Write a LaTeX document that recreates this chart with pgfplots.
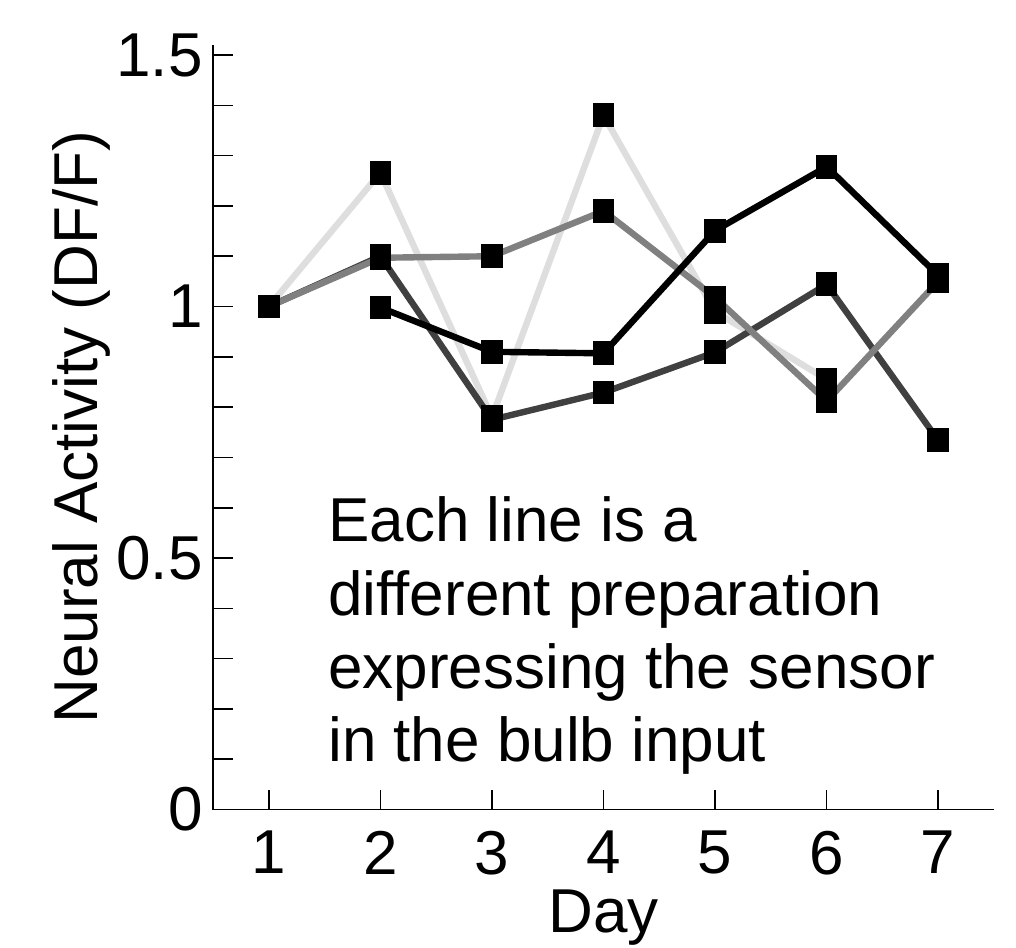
\documentclass[border=0pt]{standalone}
\usepackage{pgfplots}
\pgfplotsset{compat=1.18}
\usepackage{fontspec}
\setmainfont{Liberation Sans}

\definecolor{lightline}{HTML}{DEDEDE}
\definecolor{midline}{HTML}{808080}
\definecolor{darkline}{HTML}{404040}

\begin{document}
\begin{tikzpicture}
\begin{axis}[
    name=ax,
    scale only axis,
    width=390.5pt, height=382.25pt,
    xmin=0.5, xmax=7.5, ymin=0, ymax=1.52,
    axis x line*=bottom, axis y line*=left,
    axis line style={line width=0.9pt},
    xtick={1,...,7},
    ytick={0,0.5,1,1.5},
    minor ytick={0.1,0.2,0.3,0.4,0.6,0.7,0.8,0.9,1.1,1.2,1.3,1.4},
    tick align=inside,
    major tick length=10pt, minor tick length=10pt,
    tick style={black, line width=0.8pt},
    /pgf/number format/assume math mode=true,
    ticklabel style={font=\fontsize{31}{36}\selectfont, inner sep=0pt},
    xticklabel style={anchor=north, yshift=-10.5pt},
    yticklabel style={anchor=east, xshift=-5pt},
    label style={font=\fontsize{31}{36}\selectfont, inner sep=0pt},
    xlabel={Day},
    xlabel style={at={(axis description cs:0.5,0)}, anchor=north, yshift=-40pt},
    ylabel={Neural Activity (DF/F)},
    ylabel style={at={(axis description cs:-0.1485,0.5)}, anchor=base, rotate=0},
    clip=false,
    every axis plot/.append style={line width=3.2pt, mark=square*, mark size=3.8pt,
        mark options={black, solid, yscale=1.15}},
]
% one line per preparation
\addplot[lightline] coordinates {
    (1,1.0) (2,1.266) (3,0.78) (4,1.38) (5,0.99) (6,0.855)
};
\addplot[darkline] coordinates {
    (1,1.0) (2,1.10) (3,0.775) (4,0.829) (5,0.909) (6,1.044) (7,0.734)
};
\addplot[midline] coordinates {
    (1,1.0) (2,1.097) (3,1.10) (4,1.19) (5,1.018) (6,0.812) (7,1.05)
};
\addplot[black] coordinates {
    (2,0.998) (3,0.91) (4,0.907) (5,1.151) (6,1.278) (7,1.062)
};
\node[anchor=north west, inner sep=0pt, align=left,
      font=\fontsize{31}{36.5}\selectfont]
    at (axis cs:1.53,0.622)
    {Each line is a\\different preparation\\expressing the sensor\\in the bulb input};
\end{axis}
\pgfresetboundingbox
\path[use as bounding box] ([xshift=-106.5pt,yshift=-69pt]ax.south west)
    rectangle ([xshift=11pt,yshift=22.5pt]ax.north east);
\end{tikzpicture}
\end{document}
